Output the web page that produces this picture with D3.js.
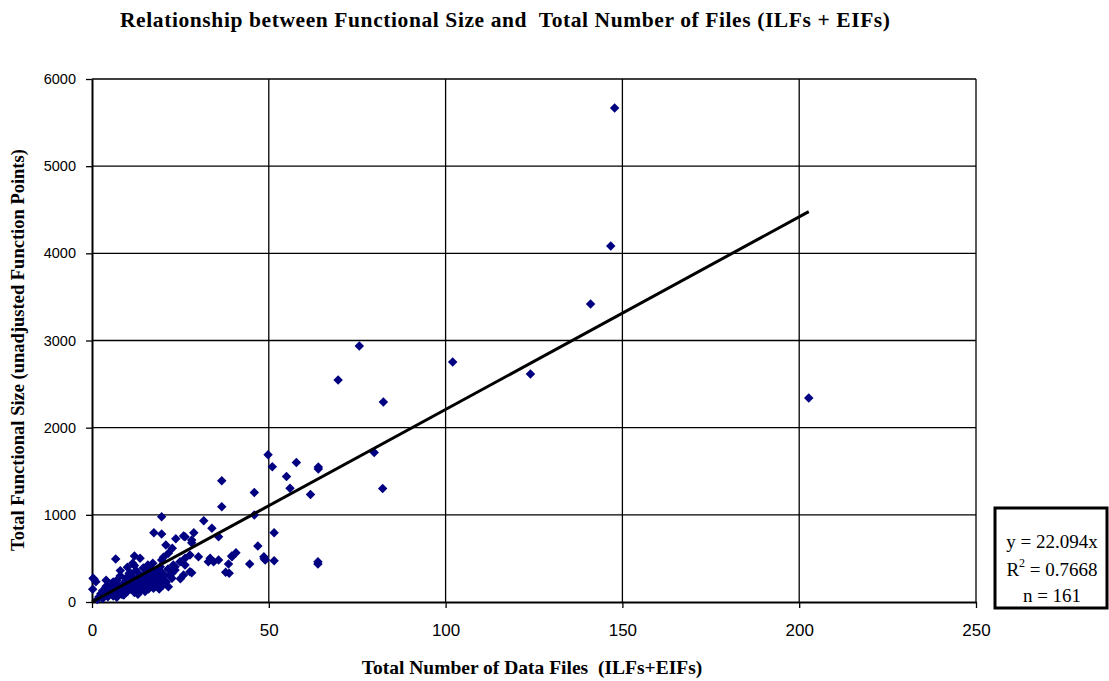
<!DOCTYPE html>
<html>
<head>
<meta charset="utf-8">
<script src="https://cdn.jsdelivr.net/npm/d3@7"></script>
<style>
  body { margin: 0; background: #fff; }
  svg text { white-space: pre; }
</style>
</head>
<body>
<svg width="1109" height="681"></svg>
<script>
// data files (ILFs+EIFs) and functional size (UFP)
const filesX = [
  147.8, 146.7, 141, 124, 102, 75.6, 69.6, 82.4, 202.7, 79.8,
  82.2, 57.8, 55, 49.8, 51, 64, 64, 56, 61.8, 45.9,
  36.7, 36.7, 45.9, 19.7, 31.6, 33.9, 51.5, 17.5, 19.7, 35.8,
  28.8, 26.3, 23.7, 28.2, 20.9, 22.7, 46.9, 39.6, 40.7, 48.6,
  49, 51.5, 63.9, 63.9, 44.6, 38.6, 35.8, 34.4, 32.9, 30.1,
  26.3, 38.8, 37.8, 12, 13.6, 6.7, 21.6, 25, 28.2, 26.3,
  22.6, 23.5, 0.6, 0.2, 39.5, 48.7, 25.9, 28.2, 33.4, 20.2,
  27.7, 17.4, 25.9, 22.6, 20.2, 18.3, 19.7, 21.6, 23, 24.9,
  23.5, 19.3, 27.7, 11.5, 15.8, 17.2, 1.1, 0.3,
  2, 2.5, 3, 3, 3.5, 4, 4, 4.5, 5, 5,
  5.5, 6, 6, 6.5, 7, 7, 7.5, 8, 8, 8.5,
  9, 9, 9.5, 10, 10, 10.5, 11, 11, 11.5, 12,
  12, 12.5, 13, 13, 13.5, 14, 14, 14.5, 15, 15,
  15.5, 16, 16, 16.5, 17, 17, 17.5, 18, 18, 18.5,
  19, 19, 19.5, 20, 20, 20.5, 21, 21.5, 22, 6,
  8, 10, 4, 9, 13, 15, 7, 11, 14, 16,
  12, 18, 1.5
];
const sizeY = [
  5667, 4084, 3419, 2616, 2753, 2937, 2547, 2294, 2340, 1715,
  1302, 1600, 1440, 1690, 1552, 1550, 1525, 1304, 1233, 1256,
  1392, 1093, 998, 979, 933, 845, 795, 795, 780, 749,
  795, 749, 726, 711, 654, 616, 642, 520, 566, 520,
  482, 474, 462, 436, 436, 436, 482, 462, 462, 520,
  501, 329, 340, 528, 501, 493, 176, 267, 336, 424,
  329, 405, 260, 146, 528, 497, 757, 680, 501, 513,
  348, 157, 310, 272, 233, 348, 482, 559, 424, 462,
  367, 405, 539, 444, 424, 444, 233, 272,
  60, 95, 40, 130, 75, 110, 180, 60, 140, 95,
  210, 120, 70, 165, 250, 105, 190, 140, 300, 85,
  220, 160, 270, 120, 190, 330, 240, 150, 290, 200,
  110, 360, 260, 170, 310, 220, 140, 390, 280, 190,
  330, 240, 150, 300, 210, 370, 260, 180, 320, 230,
  290, 150, 350, 260, 190, 310, 230, 380, 300, 230,
  360, 400, 250, 80, 90, 120, 55, 330, 300, 380,
  420, 270, 30
];
const xTicks = [0, 50, 100, 150, 200, 250];
const yTicks = [0, 1000, 2000, 3000, 4000, 5000, 6000];
const slope = 22.094;
const statLines = ["y = 22.094x", " = 0.7668", "n = 161"];

const points = filesX.map((x, i) => ({ x: x, y: sizeY[i] }));

const svg = d3.select("svg");
const plotL = 92, plotR = 976, plotT = 79, plotB = 602;
const serif = "Liberation Serif, Times New Roman, serif";
const sans = "Liberation Sans, Arial, sans-serif";

const x = d3.scaleLinear().domain([0, 250]).range([plotL, plotR]);
const y = d3.scaleLinear().domain([0, 6000]).range([plotB, plotT]);

// grid
svg.append("g")
  .selectAll("line")
  .data(yTicks.slice(1))
  .enter()
  .append("line")
  .attr("x1", plotL).attr("x2", plotR)
  .attr("y1", d => y(d)).attr("y2", d => y(d))
  .attr("stroke", "#000").attr("stroke-width", 1.3);

svg.append("g")
  .selectAll("line")
  .data(xTicks.slice(1))
  .enter()
  .append("line")
  .attr("x1", d => x(d)).attr("x2", d => x(d))
  .attr("y1", plotT).attr("y2", plotB)
  .attr("stroke", "#000").attr("stroke-width", 1.3);

// axes
const xAxis = d3.axisBottom(x).tickValues(xTicks).tickFormat(d3.format("d"))
  .tickSize(6).tickPadding(16).tickSizeOuter(0);
const yAxis = d3.axisLeft(y).tickValues(yTicks).tickFormat(d3.format("d"))
  .tickSize(6).tickPadding(10).tickSizeOuter(0);

svg.append("g")
  .attr("transform", `translate(0,${plotB})`)
  .call(xAxis)
  .call(g => g.select(".domain").attr("stroke-width", 2))
  .call(g => g.selectAll("line").attr("stroke-width", 1.3))
  .call(g => g.selectAll("text")
    .attr("font-family", sans).attr("font-size", 17).attr("fill", "#000"));

svg.append("g")
  .attr("transform", `translate(${plotL},0)`)
  .call(yAxis)
  .call(g => g.select(".domain").attr("stroke-width", 2))
  .call(g => g.selectAll("line").attr("stroke-width", 1.3))
  .call(g => g.selectAll("text")
    .attr("font-family", sans).attr("font-size", 14.5).attr("fill", "#000"));

// points
const diamond = d3.symbol().type(d3.symbolSquare).size(45);
svg.append("g")
  .selectAll("path")
  .data(points)
  .enter()
  .append("path")
  .attr("d", diamond)
  .attr("transform", d => `translate(${x(d.x)},${y(d.y)}) rotate(45)`)
  .attr("fill", "#000080");

// trend line through origin
const xMax = d3.max(filesX);
svg.append("line")
  .attr("x1", x(0)).attr("y1", y(0))
  .attr("x2", x(xMax)).attr("y2", y(slope * xMax))
  .attr("stroke", "#000").attr("stroke-width", 3);

// titles
svg.append("text")
  .attr("x", 505).attr("y", 27)
  .attr("text-anchor", "middle")
  .attr("font-family", serif)
  .attr("font-weight", "bold").attr("font-size", 21.5)
  .attr("textLength", 770).attr("lengthAdjust", "spacing")
  .text("Relationship between Functional Size and  Total Number of Files (ILFs + EIFs)");

svg.append("text")
  .attr("x", 532).attr("y", 674)
  .attr("text-anchor", "middle")
  .attr("font-family", serif)
  .attr("font-weight", "bold").attr("font-size", 19.5)
  .text("Total Number of Data Files  (ILFs+EIFs)");

svg.append("text")
  .attr("transform", "translate(24,350) rotate(-90)")
  .attr("text-anchor", "middle")
  .attr("font-family", serif)
  .attr("font-weight", "bold").attr("font-size", 18.5)
  .text("Total Functional Size (unadjusted Function Points)");

// stats box
const box = svg.append("g");
box.append("rect")
  .attr("x", 995).attr("y", 508)
  .attr("width", 112).attr("height", 100)
  .attr("fill", "#fff").attr("stroke", "#000").attr("stroke-width", 3);

const statText = box.append("g")
  .attr("font-family", serif)
  .attr("font-size", 19).attr("text-anchor", "middle");

statText.append("text").attr("x", 1052).attr("y", 548).text(statLines[0]);
const r2 = statText.append("text").attr("x", 1052).attr("y", 576);
r2.append("tspan").text("R");
r2.append("tspan").attr("dy", -9).attr("font-size", 12).text("2");
r2.append("tspan").attr("dy", 9).text(statLines[1]);
statText.append("text").attr("x", 1052).attr("y", 602).text(statLines[2]);
</script>
</body>
</html>
